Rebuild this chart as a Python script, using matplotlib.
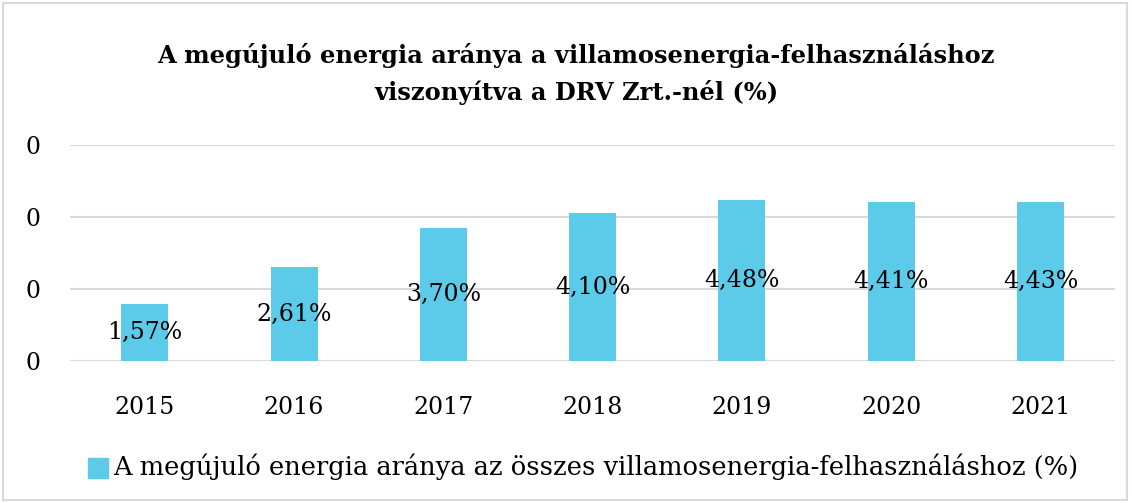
import matplotlib.pyplot as plt
from matplotlib.patches import Rectangle

years = ["2015", "2016", "2017", "2018", "2019", "2020", "2021"]
share = [1.57, 2.61, 3.70, 4.10, 4.48, 4.41, 4.43]
y_ticks = [0, 2, 4, 6]
y_tick_labels = ["0", "0", "0", "0"]

TITLE = ("A megújuló energia aránya a villamosenergia-felhasználáshoz\n"
         "viszonyítva a DRV Zrt.-nél (%)")
LEGEND = "A megújuló energia aránya az összes villamosenergia-felhasználáshoz (%)"
BAR_COLOR = "#5BCBE9"

plt.rcParams["font.family"] = ["DejaVu Serif"]
FS = 17

fig = plt.figure(figsize=(11.32, 5.03), dpi=100)
ax = fig.add_axes([0.062, 0.2823, 0.923, 0.4294])

x = range(len(years))
bars = ax.bar(x, share, width=0.315, color=BAR_COLOR, zorder=2)
for rect, v in zip(bars, share):
    ax.text(rect.get_x() + rect.get_width() / 2, v / 2,
            f"{v:.2f}%".replace(".", ","), ha="center", va="center",
            fontsize=FS, zorder=3)

ax.set_xlim(-0.5, len(years) - 0.5)
ax.set_ylim(0, 6)
ax.set_xticks(list(x))
ax.set_xticklabels(years, fontsize=FS)
ax.set_yticks(y_ticks)
ax.set_yticklabels(y_tick_labels, fontsize=FS)
ax.tick_params(length=0)
ax.tick_params(axis="x", pad=25)
ax.tick_params(axis="y", pad=32)
for lbl in ax.get_yticklabels():
    lbl.set_horizontalalignment("left")
ax.yaxis.grid(True, color="#d9d9d9", linewidth=1.5, zorder=0)
for s in ax.spines.values():
    s.set_visible(False)

fig.text(0.509, 0.853, TITLE, ha="center", va="center", fontsize=17.4,
         fontweight="bold", linespacing=1.6)

# legend
fig.patches.append(Rectangle((88 / 1132, 1 - 478 / 503), 20 / 1132, 20 / 503,
                             transform=fig.transFigure, color=BAR_COLOR))
fig.text(113 / 1132, 1 - 467 / 503, LEGEND, ha="left", va="center", fontsize=18.5)

# chart border
fig.patches.append(Rectangle((0.003, 0.005), 0.993, 0.99, transform=fig.transFigure,
                             fill=False, edgecolor="#d9d9d9", linewidth=1.5))

fig.savefig("out.png", dpi=100)
